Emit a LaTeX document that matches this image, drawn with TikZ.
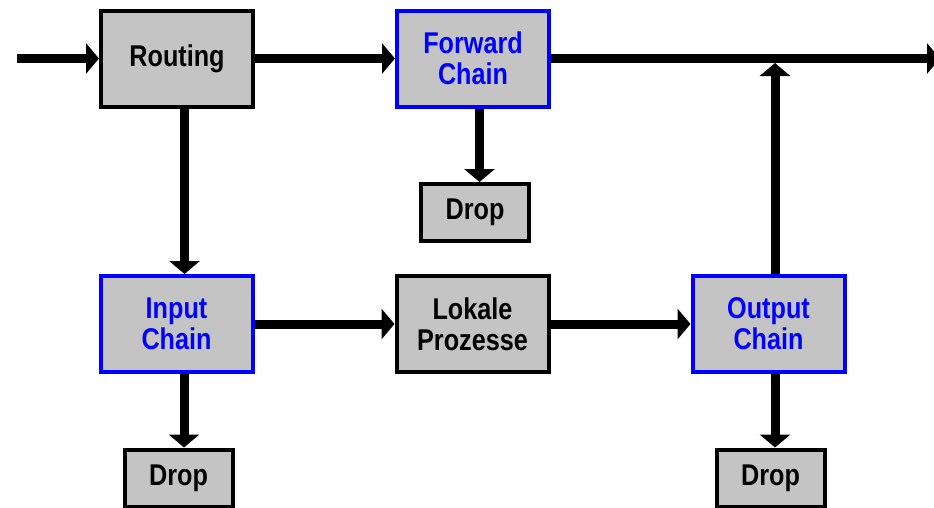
\documentclass[tikz,border=0pt]{standalone}
\usepackage{fontspec}
\setmainfont{Liberation Sans}[FakeStretch=0.84]
\usetikzlibrary{arrows.meta}
\definecolor{boxfill}{RGB}{196,196,196}
\definecolor{chainblue}{RGB}{0,0,255}
\begin{document}
\begin{tikzpicture}[x=1pt,y=-1pt,
  box/.style={draw=black, line width=4pt, fill=boxfill,
    minimum width=152pt, minimum height=96pt, inner sep=0pt,
    align=center, text=black,
    font=\fontsize{30}{31}\selectfont\bfseries},
  chain/.style={box, draw=chainblue, text=chainblue},
  dropbox/.style={box, minimum width=108pt, minimum height=57pt},
  flow/.style={line width=9pt, -{Triangle[width=30pt,length=13pt]}}]
\useasboundingbox (0,0) rectangle (934,507);
\fill[white] (0,0) rectangle (934,507);

% packet path boxes
\node[box]     (routing) at (177,58.5)   {Routing};
\node[chain]   (fwd)     at (473,58.5)   {Forward\\Chain};
\node[dropbox] (drop1)   at (475,212.5)  {Drop};
\node[chain]   (input)   at (176.5,324)  {Input\\Chain};
\node[box]     (local)   at (472.5,324)  {Lokale\\Prozesse};
\node[chain]   (output)  at (768.5,324)  {Output\\Chain};
\node[dropbox] (drop2)   at (178.5,478)  {Drop};
\node[dropbox] (drop3)   at (770.5,478)  {Drop};

% free ends of the main line
\coordinate (entry) at (17,58.5);
\coordinate (exit)  at (940,58.5);

% horizontal flow
\draw[flow] (entry) -- (routing.west);
\draw[flow] (routing.east) -- (fwd.west);
\draw[flow] (fwd.east) -- (exit);
\draw[flow] (input.east) -- (local.west);
\draw[flow] (local.east) -- (output.west);

% vertical flow
\draw[flow] ([xshift=7.5pt]routing.south) -- ([xshift=7.5pt]routing.south |- input.north);
\draw[flow] ([xshift=6.5pt]fwd.south) -- ([xshift=6.5pt]fwd.south |- drop1.north);
\draw[flow] ([xshift=7.5pt]input.south) -- ([xshift=7.5pt]input.south |- drop2.north);
\draw[flow] ([xshift=6.5pt]output.south) -- ([xshift=6.5pt]output.south |- drop3.north);
\draw[flow, shorten >=4.5pt] ([xshift=6.5pt]output.north) -- ([xshift=6.5pt]output.north |- exit);
\end{tikzpicture}
\end{document}
